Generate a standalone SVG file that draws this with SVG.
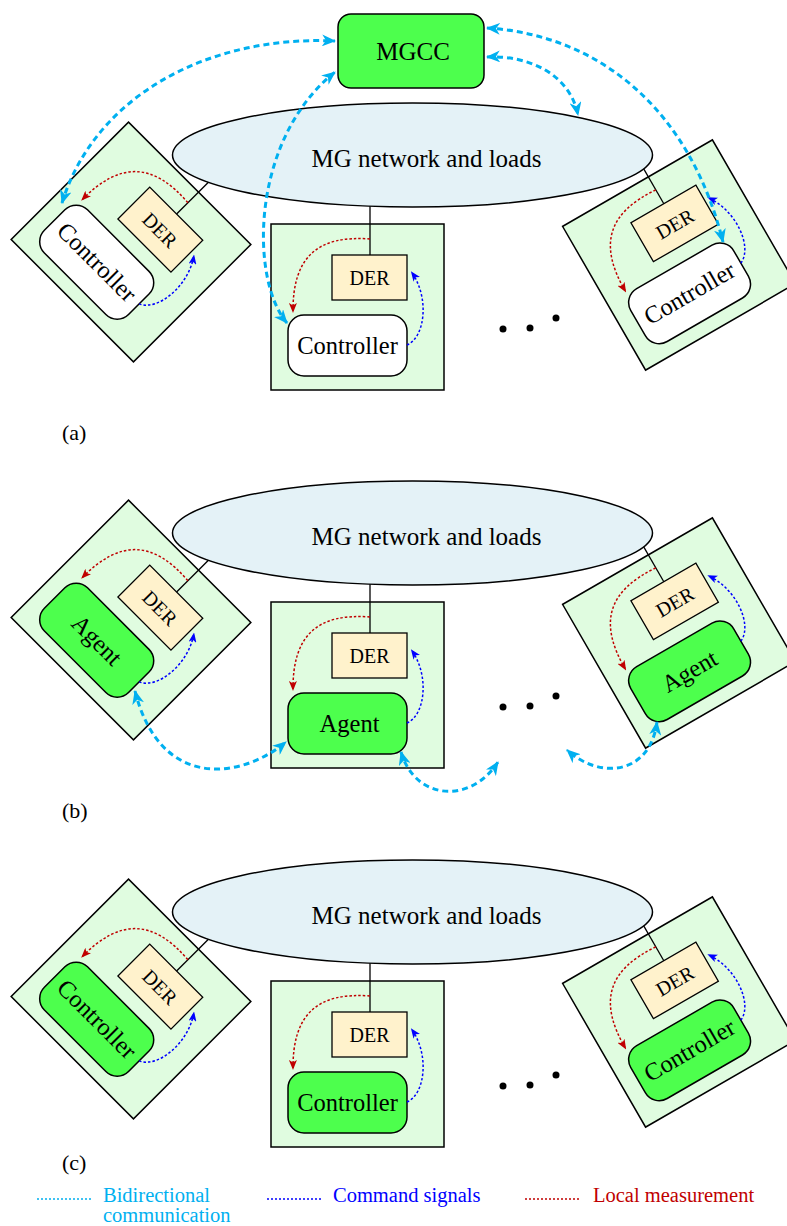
<svg xmlns="http://www.w3.org/2000/svg" width="787" height="1226" viewBox="0 0 787 1226">
<style>
text{font-family:"Liberation Serif","Times New Roman",serif;fill:#000}
.box{fill:#e0fce0;stroke:#000;stroke-width:1.5}
.der{fill:#fff2cc;stroke:#000;stroke-width:1.3}
.ctl{fill:#fff;stroke:#000;stroke-width:1.5}
.agt{fill:#4dff4d;stroke:#000;stroke-width:1.5}
.net{fill:#e4f2f7;stroke:#000;stroke-width:1.5}
.link{stroke:#000;stroke-width:1.3;fill:none}
.cyan{fill:none;stroke:#00b0f0;stroke-width:3;stroke-dasharray:6 4;marker-start:url(#ac);marker-end:url(#ac)}
.cmd{fill:none;stroke:#0000ff;stroke-width:1.5;stroke-dasharray:2.5 2;marker-end:url(#ab)}
.meas{fill:none;stroke:#c00000;stroke-width:1.5;stroke-dasharray:2.5 2;marker-end:url(#ar)}
.t-der{font-size:20px;text-anchor:middle}
.t-ctl{font-size:24.5px;text-anchor:middle}
.t-big{font-size:25px;text-anchor:middle}
.t-lab{font-size:22px}
.leg{font-size:20.5px}
</style>
<defs>
<marker id="ac" viewBox="0 0 14 12" refX="13" refY="6" markerWidth="14" markerHeight="12" markerUnits="userSpaceOnUse" orient="auto-start-reverse"><path d="M0,0 L14,6 L0,12 L4,6 z" fill="#00b0f0"/></marker>
<marker id="ab" viewBox="0 0 10 8" refX="9" refY="4" markerWidth="10" markerHeight="8" markerUnits="userSpaceOnUse" orient="auto"><path d="M0,0 L10,4 L0,8 L2.5,4 z" fill="#0000ff"/></marker>
<marker id="ar" viewBox="0 0 10 8" refX="9" refY="4" markerWidth="10" markerHeight="8" markerUnits="userSpaceOnUse" orient="auto"><path d="M0,0 L10,4 L0,8 L2.5,4 z" fill="#c00000"/></marker>
</defs>

<!-- Panel (a) boxes -->
<g id="a-left" transform="translate(131,242) rotate(45)">
<rect class="box" x="-86.5" y="-83" width="173" height="166"/>
<g id="a-left-der"><rect class="der" x="-25.5" y="-52" width="75" height="45"/><text class="t-der" x="12" y="-22">DER</text></g>
<g id="a-left-ctrl"><rect class="ctl" x="-69.5" y="8" width="119" height="61" rx="16"/><text class="t-ctl" x="-10" y="46.5">Controller</text></g>
</g>
<g id="a-mid" transform="translate(357.5,307)">
<rect class="box" x="-86.5" y="-83" width="173" height="166"/>
<g id="a-mid-der"><rect class="der" x="-25.5" y="-52" width="75" height="45"/><text class="t-der" x="12" y="-22">DER</text></g>
<g id="a-mid-ctrl"><rect class="ctl" x="-69.5" y="8" width="119" height="61" rx="16"/><text class="t-ctl" x="-10" y="46.5">Controller</text></g>
</g>
<g id="a-right" transform="translate(679,255) rotate(-30)">
<rect class="box" x="-86.5" y="-83" width="173" height="166"/>
<g id="a-right-der"><rect class="der" x="-25.5" y="-52" width="75" height="45"/><text class="t-der" x="12" y="-22">DER</text></g>
<g id="a-right-ctrl"><rect class="ctl" x="-69.5" y="8" width="119" height="61" rx="16"/><text class="t-ctl" x="-10" y="46.5">Controller</text></g>
</g>
<g id="a-net"><ellipse class="net" cx="412.5" cy="155" rx="240" ry="52"/><text class="t-big" x="426.5" y="167">MG network and loads</text></g>
<g id="mgcc"><rect class="agt" x="338" y="14" width="146" height="74" rx="13"/><text class="t-big" x="413" y="60">MGCC</text></g>

<!-- Panel (b) boxes -->
<g id="b-left" transform="translate(131,620) rotate(45)">
<rect class="box" x="-86.5" y="-83" width="173" height="166"/>
<g id="b-left-der"><rect class="der" x="-25.5" y="-52" width="75" height="45"/><text class="t-der" x="12" y="-22">DER</text></g>
<g id="b-left-agent"><rect class="agt" x="-69.5" y="8" width="119" height="61" rx="16"/><text class="t-ctl" x="-10" y="46.5">Agent</text></g>
</g>
<g id="b-mid" transform="translate(357.5,685)">
<rect class="box" x="-86.5" y="-83" width="173" height="166"/>
<g id="b-mid-der"><rect class="der" x="-25.5" y="-52" width="75" height="45"/><text class="t-der" x="12" y="-22">DER</text></g>
<g id="b-mid-agent"><rect class="agt" x="-69.5" y="8" width="119" height="61" rx="16"/><text class="t-ctl" x="-8" y="46.5">Agent</text></g>
</g>
<g id="b-right" transform="translate(679,633) rotate(-30)">
<rect class="box" x="-86.5" y="-83" width="173" height="166"/>
<g id="b-right-der"><rect class="der" x="-25.5" y="-52" width="75" height="45"/><text class="t-der" x="12" y="-22">DER</text></g>
<g id="b-right-agent"><rect class="agt" x="-69.5" y="8" width="119" height="61" rx="16"/><text class="t-ctl" x="-10" y="46.5">Agent</text></g>
</g>
<g id="b-net"><ellipse class="net" cx="412.5" cy="533" rx="240" ry="52"/><text class="t-big" x="426.5" y="545">MG network and loads</text></g>

<!-- Panel (c) boxes -->
<g id="c-left" transform="translate(131,999) rotate(45)">
<rect class="box" x="-86.5" y="-83" width="173" height="166"/>
<g id="c-left-der"><rect class="der" x="-25.5" y="-52" width="75" height="45"/><text class="t-der" x="12" y="-22">DER</text></g>
<g id="c-left-ctrl"><rect class="agt" x="-69.5" y="8" width="119" height="61" rx="16"/><text class="t-ctl" x="-10" y="46.5">Controller</text></g>
</g>
<g id="c-mid" transform="translate(357.5,1064)">
<rect class="box" x="-86.5" y="-83" width="173" height="166"/>
<g id="c-mid-der"><rect class="der" x="-25.5" y="-52" width="75" height="45"/><text class="t-der" x="12" y="-22">DER</text></g>
<g id="c-mid-ctrl"><rect class="agt" x="-69.5" y="8" width="119" height="61" rx="16"/><text class="t-ctl" x="-10" y="46.5">Controller</text></g>
</g>
<g id="c-right" transform="translate(679,1012) rotate(-30)">
<rect class="box" x="-86.5" y="-83" width="173" height="166"/>
<g id="c-right-der"><rect class="der" x="-25.5" y="-52" width="75" height="45"/><text class="t-der" x="12" y="-22">DER</text></g>
<g id="c-right-ctrl"><rect class="agt" x="-69.5" y="8" width="119" height="61" rx="16"/><text class="t-ctl" x="-10" y="46.5">Controller</text></g>
</g>
<g id="c-net"><ellipse class="net" cx="412.5" cy="912" rx="240" ry="52"/><text class="t-big" x="426.5" y="924">MG network and loads</text></g>

<!-- connectors -->
<g id="connectors">
<g transform="translate(131,242) rotate(45)"><line class="link" x1="12.5" y1="-52" x2="12.5" y2="-97"/><path class="meas" d="M12.5,-68 C-40,-72 -65,-50 -64.5,5"/><path class="cmd" d="M49.5,38 C68,30 72,-10 54,-35"/></g>
<g transform="translate(357.5,307)"><line class="link" x1="12.5" y1="-52" x2="12.5" y2="-100.8"/><path class="meas" d="M12.5,-68 C-40,-72 -65,-50 -64.5,5"/><path class="cmd" d="M49.5,38 C68,30 72,-10 54,-35"/></g>
<g transform="translate(679,255) rotate(-30)"><line class="link" x1="12.5" y1="-52" x2="12.5" y2="-92.2"/><path class="meas" d="M12.5,-68 C-40,-72 -65,-50 -64.5,5"/><path class="cmd" d="M49.5,38 C68,30 72,-10 54,-35"/></g>
<g transform="translate(131,620) rotate(45)"><line class="link" x1="12.5" y1="-52" x2="12.5" y2="-97"/><path class="meas" d="M12.5,-68 C-40,-72 -65,-50 -64.5,5"/><path class="cmd" d="M49.5,38 C68,30 72,-10 54,-35"/></g>
<g transform="translate(357.5,685)"><line class="link" x1="12.5" y1="-52" x2="12.5" y2="-100.8"/><path class="meas" d="M12.5,-68 C-40,-72 -65,-50 -64.5,5"/><path class="cmd" d="M49.5,38 C68,30 72,-10 54,-35"/></g>
<g transform="translate(679,633) rotate(-30)"><line class="link" x1="12.5" y1="-52" x2="12.5" y2="-92.2"/><path class="meas" d="M12.5,-68 C-40,-72 -65,-50 -64.5,5"/><path class="cmd" d="M49.5,38 C68,30 72,-10 54,-35"/></g>
<g transform="translate(131,999) rotate(45)"><line class="link" x1="12.5" y1="-52" x2="12.5" y2="-97"/><path class="meas" d="M12.5,-68 C-40,-72 -65,-50 -64.5,5"/><path class="cmd" d="M49.5,38 C68,30 72,-10 54,-35"/></g>
<g transform="translate(357.5,1064)"><line class="link" x1="12.5" y1="-52" x2="12.5" y2="-100.8"/><path class="meas" d="M12.5,-68 C-40,-72 -65,-50 -64.5,5"/><path class="cmd" d="M49.5,38 C68,30 72,-10 54,-35"/></g>
<g transform="translate(679,1012) rotate(-30)"><line class="link" x1="12.5" y1="-52" x2="12.5" y2="-92.2"/><path class="meas" d="M12.5,-68 C-40,-72 -65,-50 -64.5,5"/><path class="cmd" d="M49.5,38 C68,30 72,-10 54,-35"/></g>
<!-- panel (a) bidirectional -->
<path class="cyan" d="M62,203 C95,95 210,35 335,41"/>
<path class="cyan" d="M287,323 C250,280 250,140 335,72"/>
<path class="cyan" d="M487,28 C600,35 690,110 723,242"/>
<path class="cyan" d="M487,57 C530,55 570,75 578,115"/>
<!-- panel (b) bidirectional -->
<path class="cyan" d="M135,691 C160,790 240,780 286,742"/>
<path class="cyan" d="M401,752 C415,800 470,805 498,762"/>
<path class="cyan" d="M657,722 C650,775 600,780 567,750"/>
</g>

<!-- ellipsis dots -->
<g id="dots" fill="#000">
<circle cx="503" cy="329" r="3.5"/><circle cx="530" cy="328" r="3.5"/><circle cx="556" cy="318" r="3.5"/>
<circle cx="503" cy="707" r="3.5"/><circle cx="530" cy="706" r="3.5"/><circle cx="556" cy="696" r="3.5"/>
<circle cx="503" cy="1086" r="3.5"/><circle cx="530" cy="1085" r="3.5"/><circle cx="556" cy="1075" r="3.5"/>
</g>

<!-- panel labels -->
<text class="t-lab" x="62" y="440">(a)</text>
<text class="t-lab" x="62" y="818">(b)</text>
<text class="t-lab" x="62" y="1170">(c)</text>

<!-- legend -->
<g id="legend">
<line x1="37" y1="1199" x2="91" y2="1199" stroke="#00b0f0" stroke-width="1.5" stroke-dasharray="2 2"/>
<text class="leg" x="103" y="1202" style="fill:#00b0f0">Bidirectional</text>
<text class="leg" x="103" y="1222" style="fill:#00b0f0">communication</text>
<line x1="267" y1="1199" x2="322" y2="1199" stroke="#0000ff" stroke-width="1.5" stroke-dasharray="2 2"/>
<text class="leg" x="333" y="1202" style="fill:#0000ff">Command signals</text>
<line x1="525" y1="1199" x2="579" y2="1199" stroke="#c00000" stroke-width="1.5" stroke-dasharray="2 2"/>
<text class="leg" x="593" y="1202" style="fill:#c00000">Local measurement</text>
</g>
</svg>
